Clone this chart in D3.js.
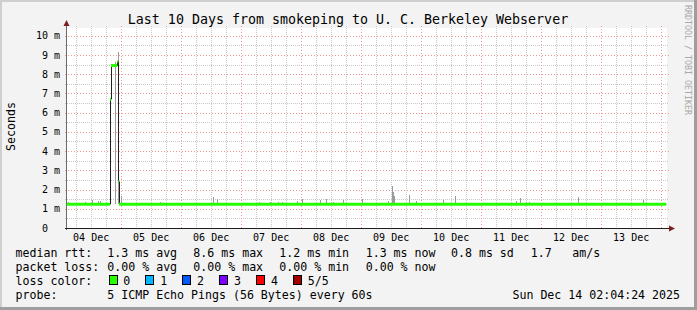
<!DOCTYPE html>
<html>
<head>
<meta charset="utf-8">
<script src="https://cdn.jsdelivr.net/npm/d3@7"></script>
<style>
  body { margin: 0; background: #f3f3f3; }
  svg text { font-family: "DejaVu Sans Mono", monospace; white-space: pre; }
</style>
</head>
<body>
<div id="vis"></div>
<script>
// chart values
const title = "Last 10 Days from smokeping to U. C. Berkeley Webserver"
const startTime = Date.UTC(2025, 11, 4, 2, 32)
const endTime = Date.UTC(2025, 11, 14, 2, 32)

// median rtt as a step series: hours after start, value in ms
const medianHours = [0, 17.2, 17.6, 20.1, 20.5, 20.8, 239.6]
const medianMs = [1.24, 6.7, 8.45, 8.65, 2.4, 1.24, 1.24]

// smoke (spread of the pings): hours after start, highest ping in ms
const smokeHours = [0.2, 7.2, 10.0, 12.4, 13.2, 19.0, 20.5, 21.6, 37.2, 58.5, 59.9, 76.8, 81.2, 84.5, 86.1,
  91.9, 94.1, 101.2, 103.5, 106.5, 110.3, 118.1, 128.5, 130.1, 130.5, 130.9, 132.9, 136.9, 139.6,
  150.5, 155.3, 179.7, 181.3, 183.5, 184.9, 204.4, 220.8, 230.5]
const smokeMaxMs = [1.35, 1.33, 1.46, 1.40, 1.38, 8.62, 9.15, 1.66, 1.35, 1.63, 1.50, 1.35, 1.35, 1.35, 1.35,
  1.40, 1.50, 1.46, 1.50, 1.33, 1.46, 1.50, 1.40, 2.20, 1.89, 1.68, 1.30, 1.72, 1.42,
  1.46, 1.66, 1.40, 1.58, 1.33, 1.33, 1.62, 1.32, 1.46]

const rttStats = ["1.3 ms avg", "8.6 ms max", "1.2 ms min", "1.3 ms now", "0.8 ms sd", "1.7", "am/s"]
const lossStats = ["0.00 % avg", "0.00 % max", "0.00 % min", "0.00 % now"]
const lossLabels = ["0", "1", "2", "3", "4", "5/5"]
const lossColors = ["#26ff00", "#00b8ff", "#0059ff", "#7e00ff", "#ff0000", "#a10000"]
const probeText = "5 ICMP Echo Pings (56 Bytes) every 60s"
const stampText = "Sun Dec 14 02:04:24 2025"

const W = 697, H = 310
const plot = { left: 67, right: 667, top: 28, bottom: 228 }

const svg = d3.select("#vis").append("svg")
  .attr("width", W).attr("height", H)

// background with shaded border
svg.append("rect").attr("width", W).attr("height", H).attr("fill", "#f3f3f3")
svg.append("path").attr("d", `M0,0H${W}V2H2V${H}H0Z`).attr("fill", "#cfcfcf")
svg.append("path").attr("d", `M${W},0V${H}H0V${H - 3}H${W - 3}V0Z`).attr("fill", "#9e9e9e")

svg.append("rect")
  .attr("x", plot.left).attr("y", plot.top)
  .attr("width", plot.right - plot.left).attr("height", plot.bottom - plot.top)
  .attr("fill", "#ffffff")

const x = d3.scaleUtc()
  .domain([startTime, endTime])
  .range([plot.left, plot.right])

const y = d3.scaleLinear()
  .domain([0, 10.4])
  .range([plot.bottom, plot.top])

const hourToTime = h => startTime + h * 3600e3
const crisp = v => Math.round(v) + 0.5

// grid: minor dotted grey, major dotted red, reaching 2px past the canvas
const majorX = x.ticks(d3.utcDay.every(1)).map(t => +t)
const majorY = y.ticks(10)
const minorX = x.ticks(d3.utcHour.every(6)).filter(t => !majorX.includes(+t))
const minorY = y.ticks(20).filter(v => !majorY.includes(v))

function vLine(g, t, colour, dash) {
  g.append("line")
    .attr("x1", crisp(x(t))).attr("x2", crisp(x(t)))
    .attr("y1", plot.top - 2).attr("y2", plot.bottom + 2)
    .attr("stroke", colour).attr("stroke-dasharray", dash)
}
function hLine(g, v, colour, dash) {
  g.append("line")
    .attr("x1", plot.left - 2).attr("x2", plot.right + 2)
    .attr("y1", crisp(y(v))).attr("y2", crisp(y(v)))
    .attr("stroke", colour).attr("stroke-dasharray", dash)
}

let grid = svg.append("g")
minorX.forEach(t => vLine(grid, t, "#c8c8c8", "1,1"))
minorY.forEach(v => hLine(grid, v, "#c8c8c8", "1,1"))
majorX.forEach(t => vLine(grid, t, "#f29a9a", "1,2"))
majorY.forEach(v => hLine(grid, v, "#f29a9a", "1,2"))

// smoke
const smoke = smokeHours.map((h, i) => ({ t: hourToTime(h), v: smokeMaxMs[i] }))
svg.append("g").attr("shape-rendering", "crispEdges")
  .selectAll("rect")
  .data(smoke)
  .enter()
  .append("rect")
  .attr("x", d => Math.round(x(d.t)))
  .attr("width", 1)
  .attr("y", d => y(d.v))
  .attr("height", d => Math.max(0, y(1.24) - y(d.v)))
  .attr("fill", "#9a9a9a")

// median: dark step line, loss colour on each level
const median = medianHours.map((h, i) => ({ t: hourToTime(h), v: medianMs[i] }))

const stepLine = d3.line()
  .x(d => crisp(x(d.t)))
  .y(d => y(d.v))
  .curve(d3.curveStepAfter)

svg.append("path")
  .datum(median)
  .attr("d", stepLine)
  .attr("fill", "none")
  .attr("stroke", "#202020")
  .attr("stroke-width", 1)

let greenPath = ""
for (let i = 0; i < median.length - 1; i++) {
  greenPath += `M${x(median[i].t)},${y(median[i].v)}H${x(median[i + 1].t)}`
}
svg.append("path")
  .attr("d", greenPath)
  .attr("fill", "none")
  .attr("stroke", lossColors[0])
  .attr("stroke-width", 3)

// axes
svg.append("line")
  .attr("x1", plot.left - 0.5).attr("x2", plot.left - 0.5)
  .attr("y1", plot.bottom + 2).attr("y2", plot.top - 3)
  .attr("stroke", "#6a6a6a")
svg.append("line")
  .attr("x1", plot.left - 2).attr("x2", plot.right + 2)
  .attr("y1", plot.bottom + 0.5).attr("y2", plot.bottom + 0.5)
  .attr("stroke", "#1f1f1f")
svg.append("path")
  .attr("d", `M${plot.left - 3.5},${plot.top - 2}L${plot.left + 2.5},${plot.top - 2}L${plot.left - 0.5},${plot.top - 8}Z`)
  .attr("fill", "#7f1f1f")
svg.append("path")
  .attr("d", `M${plot.right + 2},${plot.bottom - 2.5}L${plot.right + 2},${plot.bottom + 3.5}L${plot.right + 8},${plot.bottom + 0.5}Z`)
  .attr("fill", "#7f1f1f")

// y labels
svg.append("g")
  .selectAll("text")
  .data(majorY)
  .enter()
  .append("text")
  .attr("x", plot.left - 7)
  .attr("y", d => y(d) + 3.6)
  .attr("text-anchor", "end")
  .style("font-size", "10px")
  .text(d => d === 0 ? "0  " : d + " m")

// x labels at noon
svg.append("g")
  .selectAll("text")
  .data(majorX.map(t => d3.utcHour.offset(new Date(t), -12)).filter(t => t > startTime))
  .enter()
  .append("text")
  .attr("x", d => x(d) + 0.5)
  .attr("y", plot.bottom + 13)
  .attr("text-anchor", "middle")
  .style("font-size", "10px")
  .text(d => d3.utcFormat("%d %b")(d))

// titles
svg.append("text")
  .attr("x", 348).attr("y", 24)
  .attr("text-anchor", "middle")
  .style("font-size", "13.3px")
  .text(title)

svg.append("text")
  .attr("transform", "translate(15,126.5) rotate(-90)")
  .attr("text-anchor", "middle")
  .style("font-size", "11.6px")
  .text("Seconds")

svg.append("text")
  .attr("transform", "translate(685,5) rotate(90)")
  .style("font-size", "8.3px")
  .attr("fill", "#a8a8a8")
  .text("RRDTOOL / TOBI OETIKER")

// legend
const rowY = [257, 271, 285, 299]
const colX = [107.3, 193.3, 279.3, 365.7, 451, 530.7, 572.3]
const legendFont = "11.6px"

function legendText(px, py, str) {
  return svg.append("text")
    .attr("x", px).attr("y", py)
    .style("font-size", legendFont)
    .text(str)
}

legendText(15.5, rowY[0], "median rtt:")
rttStats.forEach((s, i) => legendText(colX[i], rowY[0], s))

legendText(15.5, rowY[1], "packet loss:")
lossStats.forEach((s, i) => legendText(colX[i], rowY[1], s))

legendText(15.5, rowY[2], "loss color:")
lossLabels.forEach((s, i) => {
  let bx = 108.5 + i * 36.9
  svg.append("rect")
    .attr("x", Math.round(bx) + 0.5).attr("y", rowY[2] - 9.5)
    .attr("width", 8).attr("height", 9)
    .attr("fill", lossColors[i])
    .attr("stroke", "#000")
  legendText(bx + 14.8, rowY[2], s)
})

legendText(15.5, rowY[3], "probe:")
legendText(colX[0], rowY[3], probeText)
svg.append("text")
  .attr("x", 680).attr("y", rowY[3])
  .attr("text-anchor", "end")
  .style("font-size", legendFont)
  .text(stampText)
</script>
</body>
</html>
